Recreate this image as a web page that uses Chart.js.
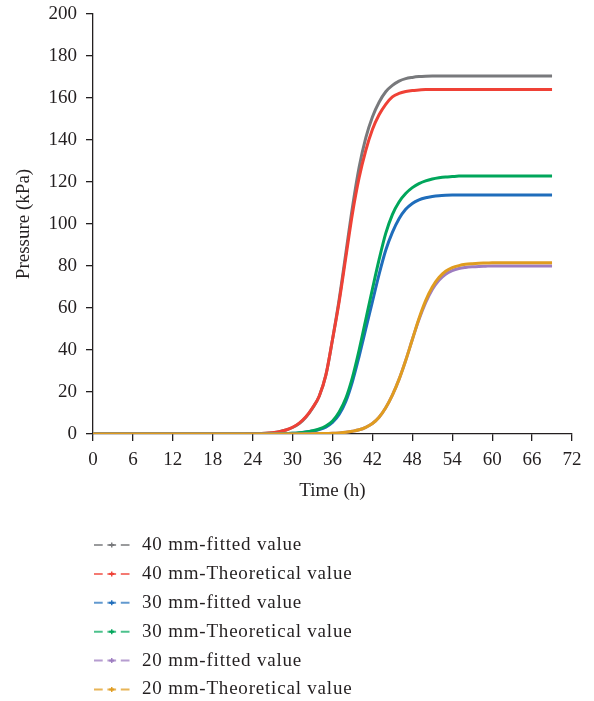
<!DOCTYPE html>
<html>
<head>
<meta charset="utf-8">
<script src="https://cdn.jsdelivr.net/npm/chart.js@4"></script>
<style>
  html, body { margin: 0; padding: 0; background: #ffffff; }
  #wrap { width: 594px; height: 701px; position: relative; }
</style>
</head>
<body>
<div id="wrap"><canvas id="chart"></canvas></div>
<script>
// Time axis (hours) shared by every series
const hours = [
  0,1,2,3,4,5,6,7,8,9,
  10,11,12,13,14,15,16,17,18,19,
  20,21,22,23,24,25,26,27,28,29,
  30,31,32,33,34,35,36,37,38,39,
  40,41,42,43,44,45,46,47,48,49,
  50,51,52,53,54,55,56,57,58,59,
  60,61,62,63,64,65,66,67,68,69
];

const seriesNames = [
  '40 mm-fitted value',
  '40 mm-Theoretical value',
  '30 mm-fitted value',
  '30 mm-Theoretical value',
  '20 mm-fitted value',
  '20 mm-Theoretical value'
];

// Pressure (kPa) per hour
const fitted40 = [
  0,0,0,0,0,0,0,0,0,0,
  0,0,0,0,0,0,0,0,0,0,
  0,0,0,0.1,0.1,0.2,0.3,0.6,1.1,1.9,
  3.1,5.0,8.0,12.3,18,28,45,64,86,108,
  127,141,151,158,163,166,168,169.2,169.8,170.2,
  170.4,170.5,170.5,170.5,170.5,170.5,170.5,170.5,170.5,170.5,
  170.5,170.5,170.5,170.5,170.5,170.5,170.5,170.5,170.5,170.5
];
const theory40 = [
  0,0,0,0,0,0,0,0,0,0,
  0,0,0,0,0,0,0,0,0,0,
  0,0,0,0.1,0.1,0.2,0.3,0.6,1.1,1.9,
  3.2,5.2,8.2,12.5,18,28,45,63,84,105,
  122,135,145,152,157,160.5,162.2,163.1,163.6,163.8,
  164,164,164,164,164,164,164,164,164,164,
  164,164,164,164,164,164,164,164,164,164
];
const fitted30 = [
  0,0,0,0,0,0,0,0,0,0,
  0,0,0,0,0,0,0,0,0,0,
  0,0,0,0,0,0,0,0,0.1,0.2,
  0.3,0.5,0.9,1.4,2.1,3.3,5.5,9.3,15.5,25,
  37,50,63,76,87.5,96,102.5,107,109.8,111.5,
  112.5,113.1,113.5,113.7,113.8,113.8,113.8,113.8,113.8,113.8,
  113.8,113.8,113.8,113.8,113.8,113.8,113.8,113.8,113.8,113.8
];
const theory30 = [
  0,0,0,0,0,0,0,0,0,0,
  0,0,0,0,0,0,0,0,0,0,
  0,0,0,0,0,0,0,0,0.1,0.2,
  0.3,0.6,1.0,1.6,2.4,3.8,6.2,10.5,17,27,
  40,54.5,69,83,95.5,104.5,110.5,114.5,117.3,119.2,
  120.5,121.4,122,122.4,122.6,122.8,122.9,122.9,122.9,122.9,
  122.9,122.9,122.9,122.9,122.9,122.9,122.9,122.9,122.9,122.9
];
const fitted20 = [
  0,0,0,0,0,0,0,0,0,0,
  0,0,0,0,0,0,0,0,0,0,
  0,0,0,0,0,0,0,0,0,0,
  0,0,0.1,0.1,0.2,0.2,0.3,0.5,0.8,1.3,
  2.0,3.2,5.0,8.0,12.5,18.5,26,35,45,54.5,
  62.5,68.8,73.2,76.1,77.8,78.8,79.3,79.6,79.8,79.9,
  80,80,80,80,80,80,80,80,80,80
];
const theory20 = [
  0,0,0,0,0,0,0,0,0,0,
  0,0,0,0,0,0,0,0,0,0,
  0,0,0,0,0,0,0,0,0,0,
  0,0,0,0.1,0.2,0.2,0.3,0.5,0.8,1.3,
  2.0,3.2,5.0,8.0,12.5,18.5,26,35,45,55,
  63.5,70,74.5,77.5,79.2,80.2,80.8,81.1,81.3,81.4,
  81.5,81.6,81.6,81.6,81.6,81.6,81.6,81.6,81.6,81.6
];

const xTicks = { min: 0, max: 72, step: 6 };
const yTicks = { min: 0, max: 200, step: 20 };

const seriesValues = [fitted40, theory40, fitted30, theory30, fitted20, theory20];
const seriesColors = ['#78797c', '#ef4136', '#1f6dbb', '#00a65b', '#9d7cc0', '#e09c1f'];
const keyColors = ['rgba(120,121,124,0.75)', 'rgba(239,65,54,0.7)', 'rgba(31,109,187,0.7)',
                   'rgba(0,166,91,0.7)', 'rgba(157,124,192,0.75)', 'rgba(224,156,31,0.75)'];
// later series are painted on top
const paintOrder = [6, 5, 4, 3, 2, 1];

const ink = '#231f20';
const serif = "'Liberation Serif', 'DejaVu Serif', serif";

const datasets = seriesValues.map((vals, i) => ({
  label: seriesNames[i],
  data: hours.map((h, k) => ({ x: h, y: vals[k] })),
  borderColor: seriesColors[i],
  backgroundColor: seriesColors[i],
  borderWidth: 3,
  pointRadius: 0,
  fill: false,
  cubicInterpolationMode: 'monotone',
  order: paintOrder[i]
}));

// Vertical key under the axes: dashed sample line with a centre mark, then the name
const seriesKey = {
  id: 'seriesKey',
  afterDraw(chart) {
    const c = chart.ctx;
    const x0 = 94, x1 = 129.5, textX = 142;
    const yStart = chart.chartArea.bottom + 111, rowGap = 28.9;
    c.save();
    chart.data.datasets.forEach((ds, i) => {
      const y = yStart + i * rowGap;
      c.strokeStyle = keyColors[i];
      c.lineWidth = 2;
      c.setLineDash([8.7, 4.7]);
      c.beginPath();
      c.moveTo(x0, y);
      c.lineTo(x1, y);
      c.stroke();
      c.setLineDash([]);
      const mx = (x0 + x1) / 2;
      c.strokeStyle = seriesColors[i];
      c.lineWidth = 1.4;
      c.beginPath();
      c.moveTo(mx, y - 2.5);
      c.lineTo(mx, y + 2.5);
      c.stroke();
      c.fillStyle = seriesColors[i];
      c.fillRect(mx - 2.5, y - 1, 5, 2);
      c.fillStyle = ink;
      c.font = '19px ' + serif;
      if ('letterSpacing' in c) c.letterSpacing = '0.8px';
      c.textAlign = 'left';
      c.textBaseline = 'middle';
      c.fillText(ds.label, textX, y);
      if ('letterSpacing' in c) c.letterSpacing = '0px';
    });
    c.restore();
  }
};

new Chart(document.getElementById('chart'), {
  type: 'line',
  data: { datasets },
  options: {
    responsive: true,
    maintainAspectRatio: false,
    animation: false,
    layout: { padding: { left: 0, right: 22, top: 14, bottom: 197 } },
    plugins: { legend: { display: false }, tooltip: { enabled: false } },
    scales: {
      x: {
        type: 'linear',
        min: xTicks.min,
        max: xTicks.max,
        ticks: { stepSize: xTicks.step, color: ink, font: { family: serif, size: 19 }, padding: 8, maxRotation: 0, autoSkip: false },
        grid: { drawOnChartArea: false, drawTicks: true, tickLength: 7, color: ink, lineWidth: 1.3 },
        border: { display: true, color: ink, width: 1.3 },
        title: { display: true, text: 'Time (h)', color: ink, font: { family: serif, size: 19 }, padding: { top: 0, bottom: 2 } },
        afterFit(scale) { scale.height = 70; }
      },
      y: {
        min: yTicks.min,
        max: yTicks.max,
        ticks: { stepSize: yTicks.step, color: ink, font: { family: serif, size: 19 }, padding: 9 },
        grid: { drawOnChartArea: false, drawTicks: true, tickLength: 7, color: ink, lineWidth: 1.3 },
        border: { display: true, color: ink, width: 1.3 },
        title: { display: true, text: 'Pressure (kPa)', color: ink, font: { family: serif, size: 19 }, padding: { top: 13, bottom: 0 } },
        afterFit(scale) { scale.width = 93; scale.paddingTop = 0; scale.paddingBottom = 0; }
      }
    }
  },
  plugins: [seriesKey]
});
</script>
</body>
</html>
